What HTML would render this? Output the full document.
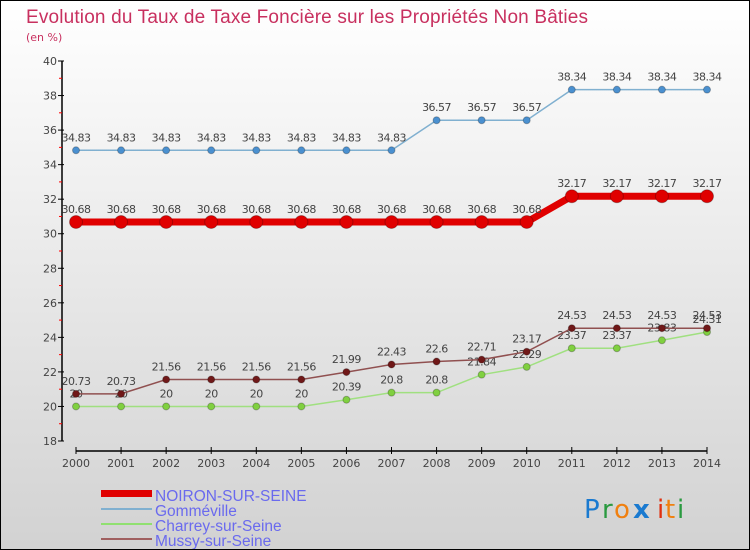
<!DOCTYPE html>
<html><head><meta charset="utf-8"><style>
html,body{margin:0;padding:0}
body{width:750px;height:550px;overflow:hidden;font-family:"DejaVu Sans","Liberation Sans",sans-serif}
#wrap{position:relative;width:748px;height:548px;border:1px solid #000;background:linear-gradient(#ffffff,#d2d2d2)}
</style></head><body>
<div id="wrap">
<svg id="chart" width="748" height="548" style="position:absolute;left:0;top:0">
<text x="25" y="22" font-size="19" fill="#c8305f" font-family="Liberation Sans, sans-serif" textLength="562">Evolution du Taux de Taxe Foncière sur les Propriétés Non Bâties</text>
<text x="25" y="40" font-size="11" fill="#c8305f">(en %)</text>
<g id="axes"></g>
<g id="series"></g>
<g>
<rect x="100" y="489" width="51" height="7" fill="#e00000"/>
<text x="154" y="500" font-size="15.5" fill="#6a6aee" font-family="Liberation Sans, sans-serif">NOIRON-SUR-SEINE</text>
<rect x="100" y="507" width="51" height="2" fill="#80b0d0"/>
<text x="154" y="515" font-size="15.5" fill="#6a6aee" font-family="Liberation Sans, sans-serif">Gomméville</text>
<rect x="100" y="522" width="51" height="2" fill="#90e070"/>
<text x="154" y="530" font-size="15.5" fill="#6a6aee" font-family="Liberation Sans, sans-serif">Charrey-sur-Seine</text>
<rect x="100" y="537" width="51" height="2" fill="#a06060"/>
<text x="154" y="545" font-size="15.5" fill="#6a6aee" font-family="Liberation Sans, sans-serif">Mussy-sur-Seine</text>
</g>
<g font-size="26" font-family="DejaVu Sans, sans-serif">
<text x="583" y="517" fill="#1a7ad0">P</text><text x="601" y="517" fill="#2a9a40">r</text><text x="613" y="517" fill="#f08010">o</text><text x="632" y="517" fill="#1a7ad0" font-weight="bold">x</text><text x="656" y="517" fill="#e03010">i</text><text x="664" y="517" fill="#f08010">t</text><text x="676" y="517" fill="#2a9a40">i</text>
</g>
</svg>
</div>
<script>
const years=[2000,2001,2002,2003,2004,2005,2006,2007,2008,2009,2010,2011,2012,2013,2014];
const noiron=[30.68,30.68,30.68,30.68,30.68,30.68,30.68,30.68,30.68,30.68,30.68,32.17,32.17,32.17,32.17];
const gommeville=[34.83,34.83,34.83,34.83,34.83,34.83,34.83,34.83,36.57,36.57,36.57,38.34,38.34,38.34,38.34];
const charrey=[20,20,20,20,20,20,20.39,20.8,20.8,21.84,22.29,23.37,23.37,23.83,24.31];
const mussy=[20.73,20.73,21.56,21.56,21.56,21.56,21.99,22.43,22.6,22.71,23.17,24.53,24.53,24.53,24.53];
const yTicks=[18,20,22,24,26,28,30,32,34,36,38,40];
const NS="http://www.w3.org/2000/svg";
function xs(i){return 75+i*(706-75)/(years.length-1);}
function ys(v){return 440-(v-18)*(380/22);}
function mk(tag,attrs,parent){const e=document.createElementNS(NS,tag);for(const k in attrs)e.setAttribute(k,attrs[k]);parent.appendChild(e);return e;}
const ax=document.getElementById('axes');
let yl=mk('line',{x1:61,y1:ys(40),x2:61,y2:ys(18),stroke:'#000','stroke-width':1.5},ax);


yTicks.forEach(t=>{
 mk('line',{x1:57,y1:ys(t),x2:63,y2:ys(t),stroke:'#000'},ax);
 if(t<40) mk('line',{x1:58,y1:ys(t+1),x2:61,y2:ys(t+1),stroke:'#f00'},ax);
 const tx=mk('text',{x:56,y:ys(t)+4,'text-anchor':'end','font-size':11,fill:'#444'},ax);
 tx.textContent=t;
 
 
});
let xl=mk('line',{x1:75,y1:450,x2:706,y2:450,stroke:'#000','stroke-width':1.5},ax);


years.forEach((y,i)=>{
 mk('line',{x1:xs(i),y1:446,x2:xs(i),y2:453,stroke:'#000'},ax);
 const tx=mk('text',{x:xs(i),y:466,'text-anchor':'middle','font-size':11,fill:'#444'},ax);
 tx.textContent=y;
 
 
});
const sg=document.getElementById('series');
function series(name,vals,color,w,r,dot){
 const g=mk('g',{},sg);
 
 
 const p=mk('polyline',{points:vals.map((v,i)=>xs(i)+','+ys(v)).join(' '),fill:'none',stroke:color,'stroke-width':w},g);
 
 
 vals.forEach((v,i)=>{
  const c=mk('circle',{cx:xs(i),cy:ys(v),r:r,fill:dot,stroke:'rgba(0,0,0,0.25)'},g);
  
  
  const t=mk('text',{x:xs(i),y:ys(v)-9,'text-anchor':'middle','font-size':11,fill:'#444','letter-spacing':'-0.5'},g);
  t.textContent=String(v);
  
  
 });
}
series('gommeville',gommeville,'#80b0d0',1.5,3.5,'#4a90d0');
series('noiron',noiron,'#e00000',7,6.5,'#e00000');
series('charrey',charrey,'#a0e080',1.5,3.5,'#80d040');
series('mussy',mussy,'#905050',1.5,3.5,'#701818');
</script>
</body></html>
